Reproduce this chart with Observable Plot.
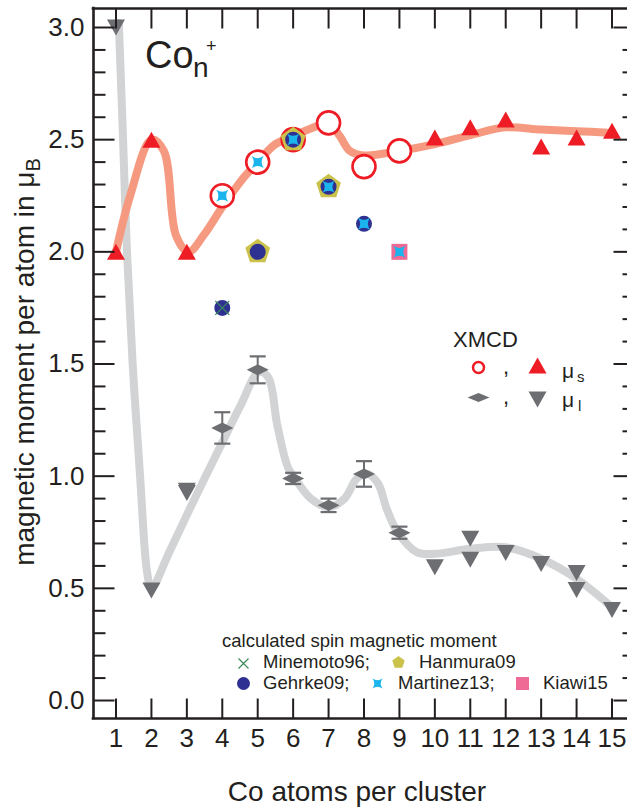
<!DOCTYPE html>
<html>
<head>
<meta charset="utf-8">
<script src="https://cdn.jsdelivr.net/npm/d3@7"></script>
<script src="https://cdn.jsdelivr.net/npm/@observablehq/plot@0.6"></script>
<style>
  html, body { margin: 0; padding: 0; background: #fff; }
  #chart { width: 627px; height: 810px; }
</style>
</head>
<body>
<div id="chart"></div>
<script>
// ---------- data ----------
const clusterSizes = [1,2,3,4,5,6,7,8,9,10,11,12,13,14,15];
const yMajorTicks = [0, 0.5, 1.0, 1.5, 2.0, 2.5, 3.0];
const yMinorTicks = [0.1,0.2,0.3,0.4,0.6,0.7,0.8,0.9,1.1,1.2,1.3,1.4,1.6,1.7,1.8,1.9,2.1,2.2,2.3,2.4,2.6,2.7,2.8,2.9];

// XMCD spin magnetic moment (open circles / triangles)
const spinCircleN = [4, 5, 6, 7, 8, 9];
const spinCircleValues = [2.25, 2.40, 2.50, 2.575, 2.38, 2.45];
const spinTriangleN = [1, 2, 3, 10, 11, 12, 13, 14, 15];
const spinTriangleValues = [2.0, 2.5, 2.0, 2.51, 2.555, 2.59, 2.47, 2.51, 2.54];
// guide-to-the-eye curve through spin moments
const spinFitN = [1, 1.4, 2, 2.35, 2.7, 3.05, 3.5, 4, 4.6, 5, 5.5, 6, 6.5, 7, 7.3, 7.6, 8, 9, 10, 11, 12, 13, 14, 15];
const spinFitValues = [2.0, 2.25, 2.5, 2.45, 2.07, 2.0, 2.08, 2.2, 2.33, 2.4, 2.48, 2.515, 2.55, 2.57, 2.52, 2.45, 2.43, 2.45, 2.48, 2.52, 2.555, 2.545, 2.538, 2.53];

// XMCD orbital magnetic moment (diamonds with error bars / down triangles)
const orbDiamondN = [4, 5, 6, 7, 8, 9];
const orbDiamondValues = [1.215, 1.474, 0.99, 0.87, 1.01, 0.748];
const orbDiamondErrors = [0.07, 0.06, 0.025, 0.03, 0.057, 0.027];
const orbTriangleN = [1, 2, 3, 3, 10, 11, 11, 12, 13, 14, 14, 15];
const orbTriangleValues = [3.0, 0.49, 0.935, 0.925, 0.594, 0.721, 0.627, 0.658, 0.609, 0.568, 0.493, 0.404];
// guide-to-the-eye curve through orbital moments
const orbFitN = [1.08, 1.2, 1.31, 1.47, 1.68, 1.88, 2, 2.5, 3.1, 4, 4.5, 5.04, 5.3, 5.55, 5.85, 6.05, 6.5, 7, 7.45, 7.8, 8.1, 8.4, 8.65, 8.95, 9.5, 10, 11, 12, 13, 14, 15];
const orbFitValues = [3.02, 2.5, 2.0, 1.5, 1.0, 0.57, 0.5, 0.66, 0.86, 1.15, 1.31, 1.465, 1.44, 1.23, 1.04, 0.99, 0.9, 0.862, 0.9, 0.99, 1.01, 0.966, 0.85, 0.75, 0.66, 0.654, 0.676, 0.683, 0.632, 0.543, 0.416];

// calculated spin magnetic moments
const minemoto96N = [4];
const minemoto96Values = [1.75];
const hanmura09N = [5, 6, 7];
const hanmura09Values = [2.0, 2.5, 2.29];
const gehrke09N = [4, 5, 6, 7, 8];
const gehrke09Values = [1.75, 2.0, 2.5, 2.29, 2.125];
const martinez13N = [4, 5, 6, 7, 8, 9];
const martinez13Values = [2.25, 2.40, 2.50, 2.29, 2.125, 2.0];
const kiawi15N = [9];
const kiawi15Values = [2.0];

// ---------- styles ----------
const INK = "#231f20";
const RED = "#ee1c25";
const SALMON = "#f59a80";
const LIGHTGREY = "#d1d3d4";
const GREY = "#6d6e71";
const NAVY = "#2e3192";
const CYAN = "#1cb4ec";
const OLIVE = "#cbc24c";
const PINK = "#ef6b95";
const GREEN = "#3b8c5a";

// ---------- custom symbols ----------
const shape = f => ({ draw(c) { f(c); } });
const triUp = (w, h) => shape(c => { c.moveTo(0, -h/2); c.lineTo(w/2, h/2); c.lineTo(-w/2, h/2); c.closePath(); });
const triDown = (w, h) => shape(c => { c.moveTo(-w/2, -h/2); c.lineTo(w/2, -h/2); c.lineTo(0, h/2); c.closePath(); });
const lozenge = (w, h) => shape(c => { c.moveTo(-w/2, 0); c.lineTo(0, -h/2); c.lineTo(w/2, 0); c.lineTo(0, h/2); c.closePath(); });
const pentagon = R => shape(c => {
  for (let k = 0; k < 5; k++) {
    const a = -Math.PI/2 + k * 2 * Math.PI / 5;
    const px = R * Math.cos(a), py = R * Math.sin(a);
    if (k) c.lineTo(px, py); else c.moveTo(px, py);
  }
  c.closePath();
});
const astroid = s => shape(c => {
  const k = 0.3;
  c.moveTo(-s, -s);
  c.quadraticCurveTo(0, -s*k, s, -s);
  c.quadraticCurveTo(s*k, 0, s, s);
  c.quadraticCurveTo(0, s*k, -s, s);
  c.quadraticCurveTo(-s*k, 0, -s, -s);
  c.closePath();
});
const cross = s => shape(c => { c.moveTo(-s, -s); c.lineTo(s, s); c.moveTo(s, -s); c.lineTo(-s, s); });
const square = s => shape(c => { c.rect(-s, -s, 2*s, 2*s); });
const hbar = w => shape(c => { c.moveTo(-w/2, 0); c.lineTo(w/2, 0); });
const seg = (dx, dy) => shape(c => { c.moveTo(0, 0); c.lineTo(dx, dy); });

const xDomain = [0.365, 15.4375];
const yDomain = [-0.0802, 3.0847];

const errLow = orbDiamondValues.map((v, i) => v - orbDiamondErrors[i]);
const errHigh = orbDiamondValues.map((v, i) => v + orbDiamondErrors[i]);

const tickStyle = { stroke: INK, strokeWidth: 2, fill: "none" };
const legendAt = (dx, dy) => ({ frameAnchor: "top-left", dx, dy });

const chart = Plot.plot({
  width: 627,
  height: 810,
  marginLeft: 93,
  marginRight: 0,
  marginTop: 8,
  marginBottom: 92,
  x: { domain: xDomain, axis: null },
  y: { domain: yDomain, axis: null },
  style: { fontFamily: "'Liberation Sans', Arial, Helvetica, sans-serif", background: "white", color: INK, overflow: "visible" },
  marks: [
    // fit curves
    Plot.line(orbFitValues, { x: orbFitN, y: orbFitValues, curve: "catmull-rom", stroke: LIGHTGREY, strokeWidth: 8 }),
    Plot.line(spinFitValues, { x: spinFitN, y: spinFitValues, curve: "catmull-rom", stroke: SALMON, strokeWidth: 8 }),

    // orbital: error bars + diamonds
    Plot.ruleX(orbDiamondValues, { x: orbDiamondN, y1: errLow, y2: errHigh, stroke: GREY, strokeWidth: 2 }),
    Plot.dot(errLow, { x: orbDiamondN, y: errLow, symbol: hbar(16), stroke: GREY, strokeWidth: 2.2, fill: "none" }),
    Plot.dot(errHigh, { x: orbDiamondN, y: errHigh, symbol: hbar(16), stroke: GREY, strokeWidth: 2.2, fill: "none" }),
    Plot.dot(orbDiamondValues, { x: orbDiamondN, y: orbDiamondValues, symbol: lozenge(22, 11), fill: GREY, stroke: "none" }),
    Plot.dot(orbTriangleValues, { x: orbTriangleN, y: orbTriangleValues, symbol: triDown(18, 16), fill: GREY, stroke: "none" }),

    // spin
    Plot.dot(spinTriangleValues, { x: spinTriangleN, y: spinTriangleValues, symbol: triUp(18, 16), fill: RED, stroke: "none" }),
    Plot.dot(spinCircleValues, { x: spinCircleN, y: spinCircleValues, r: 11.5, fill: "white", stroke: RED, strokeWidth: 2.6 }),

    // calculated
    Plot.dot(kiawi15Values, { x: kiawi15N, y: kiawi15Values, symbol: square(8), fill: PINK, stroke: "none" }),
    Plot.dot(hanmura09Values, { x: hanmura09N, y: hanmura09Values, symbol: pentagon(13), fill: OLIVE, stroke: "none" }),
    Plot.dot(gehrke09Values, { x: gehrke09N, y: gehrke09Values, r: 8, fill: NAVY, stroke: "none" }),
    Plot.dot(minemoto96Values, { x: minemoto96N, y: minemoto96Values, symbol: cross(7), stroke: GREEN, strokeWidth: 1.2, fill: "none" }),
    Plot.dot(martinez13Values, { x: martinez13N, y: martinez13Values, symbol: astroid(6), fill: CYAN, stroke: "none" }),

    // frame (left, top, bottom)
    Plot.ruleX([xDomain[0]], { stroke: INK, strokeWidth: 2.6, strokeLinecap: "square" }),
    Plot.ruleY([yDomain[0], yDomain[1]], { stroke: INK, strokeWidth: 2.6, strokeLinecap: "square" }),

    // ticks (inward)
    Plot.dot(clusterSizes, { x: d => d, frameAnchor: "bottom", symbol: seg(0, -20), ...tickStyle }),
    Plot.dot(clusterSizes, { x: d => d, frameAnchor: "top", symbol: seg(0, 20), ...tickStyle }),
    Plot.dot(yMajorTicks, { y: d => d, frameAnchor: "left", symbol: seg(21, 0), ...tickStyle }),
    Plot.dot(yMinorTicks, { y: d => d, frameAnchor: "left", symbol: seg(12, 0), ...tickStyle }),
    Plot.dot(yMajorTicks, { y: d => d, frameAnchor: "right", symbol: seg(-14, 0), ...tickStyle }),
    Plot.dot(yMinorTicks, { y: d => d, frameAnchor: "right", symbol: seg(-5, 0), ...tickStyle }),

    // tick labels
    Plot.text(yMajorTicks, { y: d => d, text: d => d.toFixed(1), frameAnchor: "left", dx: -9, dy: 0, textAnchor: "end", fontSize: 26, fill: INK }),
    Plot.text(clusterSizes, { x: d => d, text: d => String(d), frameAnchor: "bottom", dy: 28, fontSize: 26, fill: INK }),

    // XMCD legend symbols
    Plot.dot([0], { ...legendAt(385, 359), r: 5.5, fill: "white", stroke: RED, strokeWidth: 2.5 }),
    Plot.dot([0], { ...legendAt(444, 357), symbol: triUp(18, 16), fill: RED, stroke: "none" }),
    Plot.dot([0], { ...legendAt(385, 389), symbol: lozenge(22, 9), fill: GREY, stroke: "none" }),
    Plot.dot([0], { ...legendAt(444, 391), symbol: triDown(18, 16), fill: GREY, stroke: "none" }),

    // calculated legend symbols
    Plot.dot([0], { ...legendAt(150, 655), symbol: cross(5), stroke: GREEN, strokeWidth: 1.2, fill: "none" }),
    Plot.dot([0], { ...legendAt(305, 654), symbol: pentagon(6.5), fill: OLIVE, stroke: "none" }),
    Plot.dot([0], { ...legendAt(150, 675), r: 6.5, fill: NAVY, stroke: "none" }),
    Plot.dot([0], { ...legendAt(284, 675), symbol: astroid(5), fill: CYAN, stroke: "none" }),
    Plot.dot([0], { ...legendAt(429, 675), symbol: square(6.5), fill: PINK, stroke: "none" })
  ]
});

document.getElementById("chart").appendChild(chart);

// ---------- rich text (sub/superscripts) ----------
const svg = d3.select(chart);
const txt = (x, y, s, size, anchor = "start") =>
  svg.append("text").attr("x", x).attr("y", y).attr("font-size", size)
     .attr("text-anchor", anchor).attr("fill", INK).text(s);

// x-axis title
txt(357, 801, "Co atoms per cluster", 28, "middle");

// y-axis label
const yl = svg.append("text")
  .attr("transform", "translate(34,362) rotate(-90)")
  .attr("text-anchor", "middle").attr("font-size", 28).attr("fill", INK);
yl.append("tspan").text("magnetic moment per atom in μ");
yl.append("tspan").attr("font-size", 20).attr("dy", 6).text("B");

// title Co_n^+
txt(145, 68, "Co", 38);
txt(193, 77, "n", 28);
txt(206, 52, "+", 18);

// XMCD legend texts
txt(453, 347, "XMCD", 22);
txt(503, 374, ",", 22);
txt(503, 404, ",", 22);
txt(562, 378, "μ", 21);
txt(577, 382, "s", 15);
txt(562, 407, "μ", 21);
txt(578, 411, "l", 15);

// calculated legend texts
txt(222, 647, "calculated spin magnetic moment", 18.5);
txt(263, 668, "Minemoto96;", 18.5);
txt(419, 668, "Hanmura09", 18.5);
txt(263, 689, "Gehrke09;", 18.5);
txt(398, 689, "Martinez13;", 18.5);
txt(543, 689, "Kiawi15", 18.5);
</script>
</body>
</html>
